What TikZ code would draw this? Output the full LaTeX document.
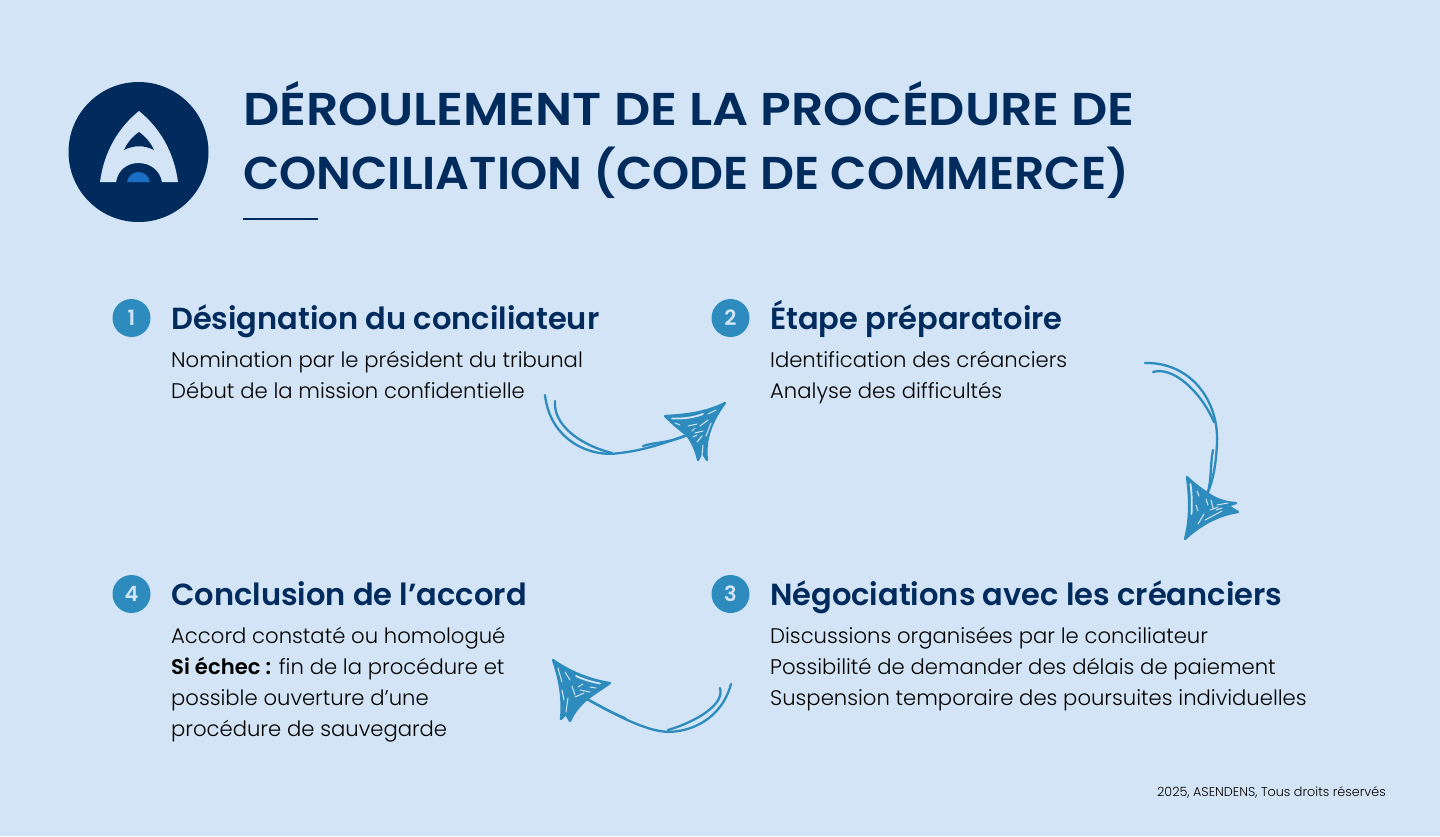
\documentclass[tikz,border=0pt]{standalone}
\usepackage{fontspec}
\usepackage{xcolor}
\setmainfont{Poppins Light}[BoldFont={Poppins SemiBold}]
\newfontfamily\headfont{Poppins SemiBold}
\usetikzlibrary{positioning}
\definecolor{pageblue}{HTML}{D2E4F5}
\definecolor{navy}{HTML}{002B5C}
\definecolor{stepblue}{HTML}{2E8BBD}
\definecolor{logoblue}{HTML}{1A6FC4}
\tikzset{
  stepnum/.style={circle,fill=stepblue,minimum size=38pt,inner sep=0pt,text=pageblue,font=\headfont\fontsize{21}{21}\selectfont},
  steptitle/.style={anchor=base west,inner sep=0pt,text=navy,font=\headfont\fontsize{30.5}{32}\selectfont},
  stepbody/.style={anchor=base west,inner sep=0pt,text=black,align=left,font=\fontsize{21.15}{30.8}\selectfont},
  maintitle/.style={anchor=base west,inner sep=0pt,text=navy,font=\headfont\fontsize{46}{46}\selectfont},
  sketch/.style={draw=stepblue,line width=2.3pt,line cap=round,line join=round},
  scribble/.style={draw=pageblue,line width=1pt,line cap=round},
  sliver/.style={draw=pageblue,line width=1.8pt,line cap=round}
}
\begin{document}
\begin{tikzpicture}[x=1pt,y=-1pt]
\useasboundingbox[fill=pageblue] (0,0) rectangle (1440,836);
% logo
\node[circle,fill=navy,minimum size=140pt,inner sep=0pt] (logo) at (138.5,152) {};
\fill[pageblue] (139,111) .. controls (118,128) and (104,152) .. (100,182) -- (116,182) .. controls (118,170) and (127,163) .. (138.5,163) .. controls (150,163) and (160,170) .. (162,182) -- (178,182) .. controls (174,152) and (160,128) .. (139,111) -- cycle;
\fill[navy] (139,132) .. controls (132,137) and (127,143) .. (124,150) .. controls (134,145) and (144,145) .. (154,150) .. controls (151,143) and (146,137) .. (139,132) -- cycle;
\fill[logoblue] (127,182) .. controls (128,176) and (133,172) .. (138.5,172) .. controls (144,172) and (149,176) .. (150,182) -- cycle;
% title
\node[maintitle] (title1) at (243,125) {\addfontfeature{FakeStretch=1.098}DÉROULEMENT DE LA PROCÉDURE DE};
\node[maintitle] (title2) at (243,189) {\addfontfeature{FakeStretch=1.029}CONCILIATION (CODE DE COMMERCE)};
\coordinate (ruleL) at (243,219);
\coordinate (ruleR) at (317.5,219);
\draw[navy,line width=2pt] (ruleL) -- (ruleR);
% steps
\node[stepnum] (num1) at (131.5,318) {1};
\node[stepnum] (num2) at (730.5,318) {2};
\node[stepnum] (num3) at (730.5,594) {3};
\node[stepnum] (num4) at (131.5,594) {4};
\node[steptitle] (head1) at (171,329) {Désignation du conciliateur};
\node[steptitle] (head2) at (770,329) {Étape préparatoire};
\node[steptitle] (head3) at (770,605) {Négociations avec les créanciers};
\node[steptitle] (head4) at (171,605) {Conclusion de l’accord};
\node[stepbody] (body1) at (171,398) {Nomination par le président du tribunal\\Début de la mission confidentielle};
\node[stepbody] (body2) at (770,398) {Identification des créanciers\\Analyse des difficultés};
\node[stepbody] (body3) at (770,705) {Discussions organisées par le conciliateur\\Possibilité de demander des délais de paiement\\Suspension temporaire des poursuites individuelles};
\node[stepbody] (body4) at (171,736) {Accord constaté ou homologué\\\textbf{Si échec :} fin de la procédure et\\possible ouverture d’une\\procédure de sauvegarde};
\node[anchor=base east,inner sep=0pt,font=\fontsize{12.75}{13}\selectfont] (copy) at (1386,796) {2025, ASENDENS, Tous droits réservés};
% arrow 1 to 2
\coordinate (arrA) at (545,395);
\coordinate (arrAb) at (555,401);
\coordinate (arrAn) at (687,435);
\draw[sketch] (arrA) .. controls (550,440) and (590,458) .. (620,453) .. controls (645,450) and (665,443) .. (arrAn);
\draw[sketch] (arrAb) .. controls (553,425) and (580,445) .. (612,453);
\draw[sketch] (643,446) .. controls (655,442) and (670,443) .. (arrAn);
\filldraw[sketch,fill=stepblue] (725,403) .. controls (705,413) and (685,415) .. (665,416) .. controls (672,423) and (680,430) .. (arrAn) .. controls (692,442) and (696,450) .. (698,460) -- (702,452) -- (707,460) .. controls (704,440) and (712,420) .. (725,403) -- cycle;
\draw[sliver] (672,418.5) .. controls (685,419) and (695,417) .. (703,414);
\foreach \a/\b/\c/\d in {675/423/680/425, 688/426/697/424, 700/426/708/420, 695/433/703/431, 697/442/702/436, 702/455/703/445, 692/431/695/428, 706/436/711/423, 693/437/697/435, 708/414/716/410}
  \draw[scribble] (\a,\b) -- (\c,\d);
% arrow 2 to 3
\coordinate (arrB) at (1145,363);
\coordinate (arrBb) at (1153,372);
\coordinate (arrBn) at (1208,492);
\draw[sketch] (arrB) .. controls (1190,362) and (1219,400) .. (1217,443) .. controls (1216,465) and (1213,480) .. (arrBn);
\draw[sketch] (arrBb) .. controls (1172,366) and (1200,390) .. (1214,422);
\draw[sketch] (1213,450) .. controls (1210,465) and (1212,475) .. (arrBn);
\filldraw[sketch,fill=stepblue] (1187,477) .. controls (1195,485) and (1203,490) .. (1210,495) .. controls (1218,500) and (1228,503) .. (1236,503) -- (1228,506) -- (1238,512) .. controls (1218,515) and (1200,525) .. (1185,539) .. controls (1190,520) and (1190,500) .. (1187,477) -- cycle;
\draw[sliver] (1190.5,484) .. controls (1192,495) and (1192,505) .. (1191.5,514);
\foreach \a/\b/\c/\d in {1197/491/1199/496, 1206/499/1208/505, 1211/500/1213/508, 1217/505/1228/503, 1205/520/1222/511, 1210/510/1218/507, 1198/524/1204/514, 1196/505/1198/511, 1216/510/1222/508}
  \draw[scribble] (\a,\b) -- (\c,\d);
% arrow 3 to 4
\coordinate (arrC) at (731,684);
\coordinate (arrCb) at (720,688);
\coordinate (arrCn) at (587,699);
\draw[sketch] (arrC) .. controls (720,725) and (680,735) .. (660,731) .. controls (640,728) and (610,712) .. (arrCn);
\draw[sketch] (arrCb) .. controls (725,705) and (695,722) .. (668,730);
\draw[sketch] (625,718) .. controls (612,713) and (600,706) .. (arrCn);
\filldraw[sketch,fill=stepblue] (553,660) .. controls (570,672) and (590,680) .. (610,683) .. controls (603,688) and (595,693) .. (arrCn) .. controls (580,705) and (574,712) .. (570,721) -- (566,714) -- (561,719) .. controls (563,700) and (560,680) .. (553,660) -- cycle;
\draw[sliver] (576,676) .. controls (585,680) and (592,682) .. (600,683.5);
\foreach \a/\b/\c/\d in {558/668/562/682, 565/672/570/680, 580/690/590/692, 575/697/584/693, 566/712/568/698, 578/687/583/684, 572/686/575/695, 590/687/596/688, 562/690/564/700}
  \draw[scribble] (\a,\b) -- (\c,\d);
\end{tikzpicture}
\end{document}
